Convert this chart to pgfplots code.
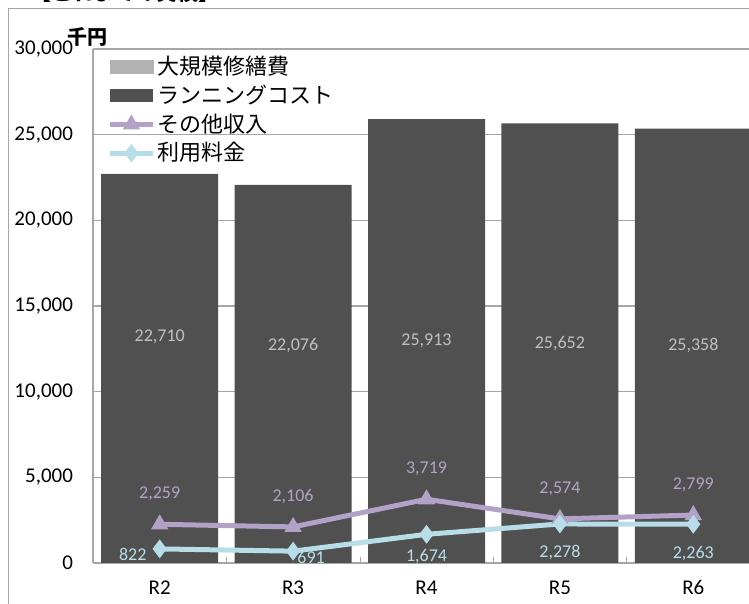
\documentclass[border=0pt]{standalone}
\usepackage{pgfplots}
\pgfplotsset{compat=1.18}
\usepackage{fontspec}
\setmainfont{Carlito}
\newfontfamily\cjk{Noto Sans CJK JP}

\definecolor{barc}{HTML}{505050}
\definecolor{bigc}{HTML}{B2B2B2}
\definecolor{purp}{HTML}{B3A2C7}
\definecolor{lblue}{HTML}{B7DEE8}
\definecolor{gridc}{HTML}{A6A6A6}
\definecolor{barlbl}{HTML}{C0C0C0}

\pgfplotsset{
    lineleg/.style={legend image code/.code={
        \draw[##1] (0pt,0pt) -- (21.5pt,0pt);
        \draw[##1, draw=none] plot coordinates {(10.75pt,0pt)};}},
    boxleg/.style={legend image code/.code={
        \fill[##1] (0pt,-3.25pt) rectangle (21.5pt,3.25pt);}},
}

% running cost
\pgfplotstableread{
x y
0 22710
1 22076
2 25913
3 25652
4 25358
}\runcost
% bar labels (mid height, offsets in pt)
\pgfplotstableread{
x y lbl dy
0 11355 22,710 16
1 11038 22,076 14
2 12956 25,913 0
3 12826 25,652 0
4 12679 25,358 0
}\barlabels
% other income
\pgfplotstableread{
x y lbl
0 2259 2,259
1 2106 2,106
2 3719 3,719
3 2574 2,574
4 2799 2,799
}\other
% usage fees
\pgfplotstableread{
x y lbl dx dy
0 822 822 -13.5 -3
1 691 691 9 -3
2 1674 1,674 0 -11
3 2278 2,278 0 -14.5
4 2263 2,263 0 -14.5
}\usage

\begin{document}
\begin{tikzpicture}
% outer frame and title (cut off at the top as in the source)
\draw[gridc] (4pt,-20pt) rectangle (420pt,298pt);
\node[anchor=base west, inner sep=0pt, font=\fontsize{10.5}{12}\cjk\bfseries] at (15pt,301.5pt) {【これまでの実績】};

\begin{axis}[
    at={(46.5pt,20.5pt)}, anchor=south west,
    scale only axis,
    width=333.5pt, height=257pt,
    xmin=-0.5, xmax=4.5,
    ymin=0, ymax=30000,
    ytick={0,5000,...,30000},
    xtick={0,1,2,3,4},
    xticklabels={R2,R3,R4,R5,R6},
    minor xtick={0.5,1.5,2.5,3.5},
    minor tick length=3pt,
    major tick length=0pt,
    tick align=inside,
    axis x line*=bottom, axis y line*=left,
    axis line style={gridc, line width=0.8pt},
    ymajorgrids, grid style={gridc, line width=0.8pt},
    minor tick style={gridc},
    scaled y ticks=false,
    /pgf/number format/.cd, 1000 sep={,}, assume math mode=true,
    /pgfplots/.cd,
    tick label style={font=\fontsize{10.5}{12}\selectfont},
    yticklabel style={xshift=-6.5pt},
    xticklabel style={anchor=base, yshift=-16pt},
    clip=false,
    legend style={at={(0,1)}, anchor=north west, draw=none, fill=none,
        inner xsep=7pt, inner ysep=1.5pt, row sep=-0.4pt,
        nodes={inner xsep=1.2pt},
        font=\fontsize{11}{13}\cjk, cells={anchor=west}},
    legend cell align=left,
]
% large repairs: no values in the period, legend entry only
\addlegendimage{boxleg, bigc}
\addlegendentry{大規模修繕費}

\addplot[ybar, bar width=58.5pt, fill=barc, draw=none, boxleg]
    table[x=x,y=y] {\runcost};
\addlegendentry{ランニングコスト}

\addplot[draw=none, forget plot, nodes near coords, point meta=explicit symbolic,
    visualization depends on={\thisrow{dy} \as \dy},
    every node near coord/.style={anchor=center, yshift=\dy pt, font=\fontsize{9}{11}\selectfont, text=barlbl}]
    table[x=x,y=y,meta=lbl] {\barlabels};

\addplot[purp, line width=2.5pt, mark=triangle*, mark size=4.5pt,
    mark options={fill=purp, draw=purp, line width=0.5pt},
    nodes near coords, point meta=explicit symbolic,
    every node near coord/.style={anchor=center, yshift=15pt, font=\fontsize{9}{11}\selectfont, text=purp},
    lineleg]
    table[x=x,y=y,meta=lbl] {\other};
\addlegendentry{その他収入}

\addplot[lblue, line width=2.5pt, mark=diamond*, mark size=4.3pt,
    mark options={fill=lblue, draw=lblue, line width=0.5pt},
    nodes near coords, point meta=explicit symbolic,
    visualization depends on={\thisrow{dx} \as \dx},
    visualization depends on={\thisrow{dy} \as \dy},
    every node near coord/.style={anchor=center, xshift=\dx pt, yshift=\dy pt, font=\fontsize{9}{11}\selectfont, text=lblue},
    lineleg]
    table[x=x,y=y,meta=lbl] {\usage};
\addlegendentry{利用料金}
\end{axis}

\node[anchor=center, inner sep=0pt, font=\fontsize{10}{12}\cjk\bfseries] at (43.5pt,283.5pt) {千円};

\pgfresetboundingbox
\useasboundingbox (0pt,0pt) rectangle (374.5pt,302pt);
\end{tikzpicture}
\end{document}
